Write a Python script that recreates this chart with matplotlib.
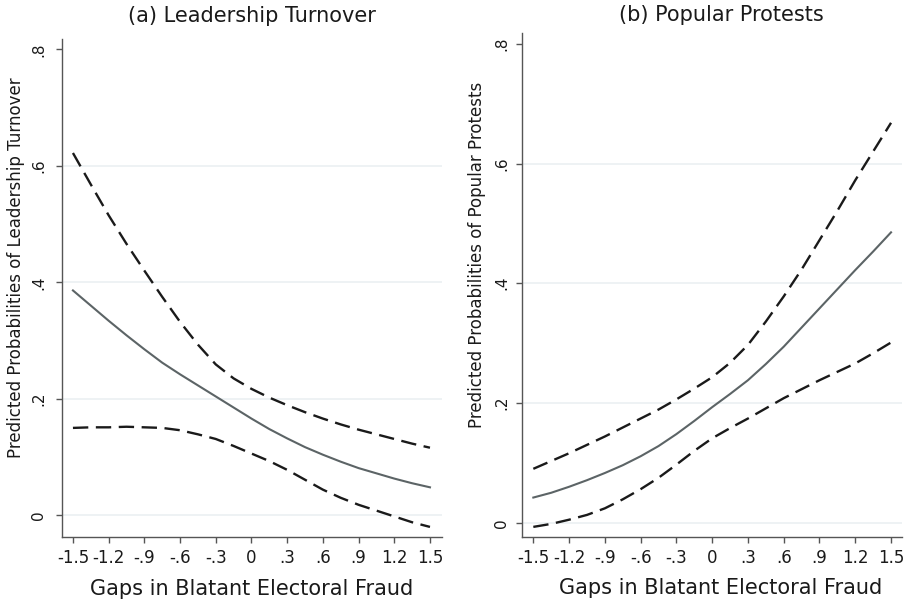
import numpy as np
import matplotlib
matplotlib.use("Agg")
import matplotlib.pyplot as plt

plt.rcParams['font.family'] = ['DejaVu Sans']

# x grid of the margins plot
gap = [-1.5, -1.35, -1.2, -1.05, -0.9, -0.75, -0.6, -0.45, -0.3, -0.15, 0.0,
       0.15, 0.3, 0.45, 0.6, 0.75, 0.9, 1.05, 1.2, 1.35, 1.5]

# (a) leadership turnover
turn_fit = [0.386, 0.360, 0.334, 0.309, 0.285, 0.262, 0.242, 0.223, 0.204, 0.185, 0.166,
            0.148, 0.132, 0.117, 0.104, 0.092, 0.081, 0.072, 0.063, 0.055, 0.048]
turn_hi = [0.622, 0.568, 0.515, 0.466, 0.420, 0.375, 0.332, 0.293, 0.259, 0.235, 0.217,
           0.202, 0.189, 0.177, 0.166, 0.156, 0.147, 0.139, 0.131, 0.123, 0.116]
turn_lo = [0.150, 0.151, 0.151, 0.152, 0.151, 0.150, 0.146, 0.139, 0.131, 0.119, 0.106,
           0.093, 0.078, 0.061, 0.044, 0.030, 0.018, 0.008, -0.002, -0.012, -0.020]

# (b) popular protests
prot_fit = [0.042, 0.050, 0.060, 0.071, 0.083, 0.096, 0.111, 0.128, 0.148, 0.170, 0.193,
            0.215, 0.238, 0.265, 0.294, 0.326, 0.358, 0.390, 0.422, 0.453, 0.485]
prot_hi = [0.090, 0.103, 0.116, 0.130, 0.144, 0.159, 0.174, 0.189, 0.206, 0.224, 0.243,
           0.267, 0.297, 0.336, 0.378, 0.423, 0.472, 0.521, 0.572, 0.620, 0.668]
prot_lo = [-0.007, -0.002, 0.005, 0.013, 0.024, 0.039, 0.056, 0.075, 0.097, 0.120, 0.141,
           0.158, 0.174, 0.191, 0.208, 0.223, 0.238, 0.252, 0.266, 0.283, 0.301]

xticks = [-1.5, -1.2, -0.9, -0.6, -0.3, 0, 0.3, 0.6, 0.9, 1.2, 1.5]
xticklabels = ['-1.5', '-1.2', '-.9', '-.6', '-.3', '0', '.3', '.6', '.9', '1.2', '1.5']
yticks = [0, 0.2, 0.4, 0.6, 0.8]
yticklabels = ['0', '.2', '.4', '.6', '.8']

W, H = 910, 602
fig = plt.figure(figsize=(W / 100, H / 100), dpi=100)
fig.patch.set_facecolor('white')

def px_rect(x0, y0, x1, y1):
    return [x0 / W, 1 - y1 / H, (x1 - x0) / W, (y1 - y0) / H]

ax1 = fig.add_axes(px_rect(62, 39, 442, 537))
ax2 = fig.add_axes(px_rect(522, 33, 902, 537))

panels = [
    (ax1, turn_fit, turn_hi, turn_lo, (-1.592, 1.601), (-0.0373, 0.8177), 7),
    (ax2, prot_fit, prot_hi, prot_lo, (-1.595, 1.592), (-0.0239, 0.818), 5),
]

for ax, fit, hi, lo, xl, yl, ypad in panels:
    for g in [0, 0.2, 0.4, 0.6]:
        ax.axhline(g, color='#eaeff1', lw=1.1, zorder=0)
    ax.plot(gap, hi, color='#1a1a1a', lw=1.7, dashes=(6.5, 3.2))
    ax.plot(gap, lo, color='#1a1a1a', lw=1.7, dashes=(6.5, 3.2))
    ax.plot(gap, fit, color='#5c6466', lw=1.5)
    ax.set_xlim(*xl)
    ax.set_ylim(*yl)
    ax.set_xticks(xticks)
    ax.set_xticklabels(xticklabels, fontsize=12, color='#1a1a1a')
    ax.set_yticks(yticks)
    ax.set_yticklabels(yticklabels, fontsize=11, color='#1a1a1a',
                       rotation=90, va='center')
    for s in ['top', 'right']:
        ax.spines[s].set_visible(False)
    for s in ['left', 'bottom']:
        ax.spines[s].set_color('#555555')
        ax.spines[s].set_linewidth(1.0)
    ax.tick_params(axis='x', length=4.3, width=1.0, color='#555555', pad=4)
    ax.tick_params(axis='y', length=4.3, width=1.0, color='#555555', pad=ypad)

# titles, axis labels (placed in pixel positions of the original)
def ftext(x, y, s, **kw):
    fig.text(x / W, 1 - y / H, s, ha='center', va='center', color='#1a1a1a', **kw)

ftext(252, 16, '(a) Leadership Turnover', fontsize=15)
ftext(721, 15, '(b) Popular Protests', fontsize=15)
ftext(252, 589, 'Gaps in Blatant Electoral Fraud', fontsize=15)
ftext(721, 588, 'Gaps in Blatant Electoral Fraud', fontsize=15)
ftext(16, 268, 'Predicted Probabilities of Leadership Turnover', fontsize=12, rotation=90)
ftext(477, 255, 'Predicted Probabilities of Popular Protests', fontsize=12, rotation=90)

fig.savefig('out.png', dpi=100, facecolor='white')
